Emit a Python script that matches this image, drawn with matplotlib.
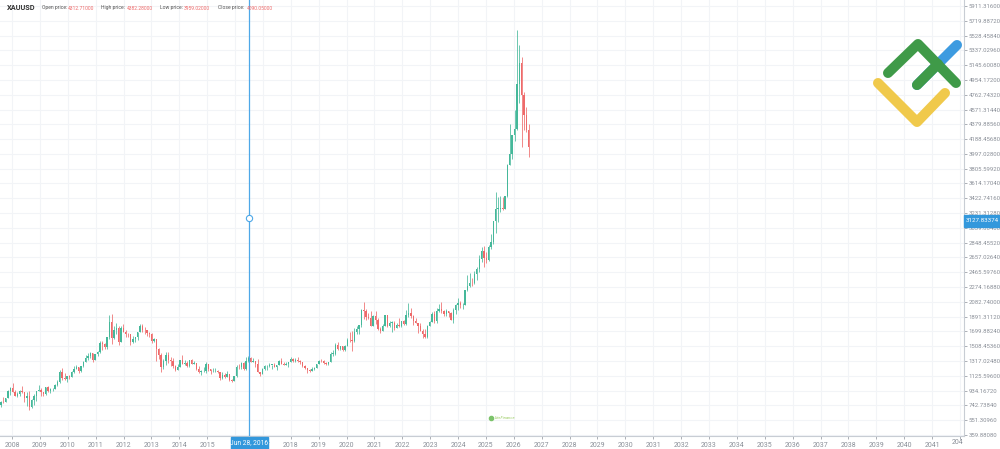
import numpy as np
import pandas as pd
import matplotlib
matplotlib.use("Agg")
import matplotlib.pyplot as plt
from matplotlib.patches import Rectangle

plt.rcParams['font.family'] = ['Roboto', 'DejaVu Sans']

# monthly XAUUSD candles, Aug 2007 .. Jun 2026
months = pd.date_range("2007-08-01", "2026-06-01", freq="MS")

opens = [
    665, 673, 743, 789, 783,
    834, 923, 972, 916, 864, 886, 929, 913, 833, 870, 717, 815,
    870, 927, 942, 917, 884, 979, 926, 954, 955, 1001, 1040, 1180,
    1097, 1082, 1118, 1113, 1180, 1212, 1244, 1181, 1247, 1307, 1357, 1386,
    1421, 1332, 1409, 1439, 1556, 1536, 1500, 1628, 1826, 1620, 1722, 1746,
    1564, 1738, 1697, 1669, 1664, 1560, 1598, 1622, 1692, 1772, 1719, 1713,
    1675, 1663, 1578, 1595, 1472, 1393, 1234, 1313, 1395, 1327, 1323, 1253,
    1202, 1244, 1326, 1284, 1296, 1250, 1327, 1282, 1287, 1210, 1171, 1183,
    1184, 1283, 1212, 1183, 1183, 1190, 1172, 1095, 1133, 1115, 1142, 1065,
    1061, 1118, 1238, 1233, 1293, 1215, 1322, 1351, 1309, 1316, 1277, 1173,
    1152, 1211, 1249, 1249, 1268, 1268, 1242, 1269, 1322, 1280, 1271, 1275,
    1303, 1345, 1318, 1325, 1316, 1299, 1253, 1224, 1201, 1192, 1215, 1222,
    1282, 1321, 1313, 1292, 1284, 1305, 1409, 1413, 1520, 1472, 1511, 1464,
    1517, 1589, 1585, 1577, 1686, 1730, 1781, 1975, 1968, 1886, 1879, 1776,
    1898, 1847, 1734, 1708, 1769, 1907, 1770, 1814, 1814, 1743, 1783, 1774,
    1829, 1797, 1909, 1937, 1897, 1837, 1807, 1766, 1711, 1660, 1633, 1768,
    1824, 1928, 1837, 1969, 1990, 1963, 1919, 1965, 1940, 1849, 1983, 2036,
    2063, 2040, 2044, 2230, 2286, 2327, 2326, 2448, 2503, 2635, 2744, 2654,
    2625, 2798, 2858, 3124, 3288, 3289, 3303, 3290, 3448, 3858, 4002, 4240,
    4320, 4900, 5180, 4760, 4500, 4312.71,
]
highs = [
    676, 745, 795, 848, 837,
    935, 975, 1033, 938, 921, 940, 988, 915, 919, 931, 827, 889,
    932, 1006, 964, 920, 983, 991, 962, 971, 1025, 1071, 1195, 1227,
    1162, 1128, 1139, 1181, 1249, 1265, 1244, 1250, 1315, 1388, 1424, 1431,
    1424, 1411, 1448, 1577, 1577, 1553, 1632, 1911, 1921, 1764, 1803, 1764,
    1764, 1791, 1718, 1678, 1669, 1640, 1627, 1693, 1790, 1796, 1755, 1723,
    1695, 1685, 1617, 1605, 1488, 1417, 1348, 1434, 1434, 1362, 1361, 1267,
    1280, 1333, 1392, 1331, 1315, 1326, 1346, 1322, 1289, 1255, 1206, 1238,
    1307, 1284, 1219, 1224, 1232, 1205, 1175, 1170, 1157, 1191, 1142, 1088,
    1125, 1263, 1283, 1304, 1303, 1362, 1375, 1367, 1352, 1318, 1337, 1180,
    1220, 1264, 1261, 1296, 1270, 1296, 1271, 1331, 1357, 1306, 1299, 1306,
    1366, 1361, 1356, 1365, 1326, 1309, 1265, 1224, 1214, 1243, 1237, 1284,
    1326, 1347, 1324, 1310, 1306, 1439, 1453, 1555, 1557, 1517, 1515, 1525,
    1611, 1689, 1704, 1748, 1765, 1789, 1984, 2075, 1992, 1933, 1966, 1906,
    1959, 1875, 1755, 1798, 1913, 1917, 1833, 1832, 1836, 1814, 1877, 1831,
    1853, 1974, 2070, 1998, 1910, 1879, 1814, 1808, 1735, 1730, 1787, 1833,
    1949, 1959, 2009, 2048, 2079, 1983, 1987, 1967, 1953, 2009, 2052, 2135,
    2088, 2065, 2236, 2431, 2450, 2387, 2483, 2531, 2685, 2790, 2801, 2726,
    2817, 2956, 3128, 3500, 3435, 3452, 3439, 3454, 3872, 4381, 4245, 4560,
    5600, 5410, 5250, 4800, 4600, 4382.28,
]
lows = [
    642, 671, 727, 776, 781,
    834, 882, 914, 861, 850, 860, 906, 786, 740, 681, 705, 752,
    801, 922, 865, 865, 882, 913, 904, 932, 952, 993, 1034, 1075,
    1074, 1044, 1086, 1113, 1155, 1208, 1157, 1177, 1242, 1305, 1330, 1360,
    1309, 1324, 1381, 1418, 1463, 1478, 1478, 1603, 1534, 1603, 1667, 1523,
    1563, 1688, 1627, 1627, 1527, 1546, 1564, 1586, 1688, 1692, 1672, 1635,
    1626, 1555, 1562, 1321, 1338, 1180, 1207, 1271, 1292, 1251, 1220, 1185,
    1202, 1239, 1277, 1268, 1240, 1240, 1281, 1275, 1206, 1160, 1131, 1170,
    1167, 1191, 1142, 1174, 1170, 1163, 1077, 1080, 1098, 1111, 1053, 1046,
    1061, 1107, 1208, 1208, 1199, 1199, 1310, 1301, 1305, 1241, 1171, 1123,
    1147, 1200, 1195, 1240, 1214, 1236, 1205, 1267, 1280, 1261, 1264, 1237,
    1302, 1307, 1303, 1302, 1281, 1245, 1211, 1160, 1180, 1182, 1196, 1221,
    1276, 1303, 1281, 1266, 1266, 1301, 1382, 1400, 1460, 1459, 1445, 1452,
    1517, 1563, 1451, 1568, 1670, 1671, 1758, 1863, 1849, 1860, 1764, 1776,
    1802, 1717, 1677, 1705, 1766, 1751, 1751, 1688, 1722, 1740, 1759, 1753,
    1780, 1782, 1890, 1872, 1787, 1805, 1681, 1709, 1615, 1617, 1617, 1765,
    1824, 1804, 1810, 1949, 1932, 1893, 1903, 1885, 1847, 1810, 1931, 1973,
    2002, 1985, 2039, 2228, 2277, 2286, 2319, 2364, 2472, 2603, 2537, 2583,
    2614, 2772, 2833, 2970, 3121, 3247, 3268, 3282, 3436, 3850, 3929, 4170,
    4300, 4650, 4086, 4300, 4280, 3959.02,
]
closes = [
    673, 743, 789, 783, 834,
    923, 972, 916, 864, 886, 929, 913, 833, 870, 717, 815, 870,
    927, 942, 917, 884, 979, 926, 954, 955, 1001, 1040, 1180, 1097,
    1082, 1118, 1113, 1180, 1212, 1244, 1181, 1247, 1307, 1357, 1386, 1421,
    1332, 1409, 1439, 1556, 1536, 1500, 1628, 1826, 1620, 1722, 1746, 1564,
    1738, 1697, 1669, 1664, 1560, 1598, 1622, 1692, 1772, 1719, 1713, 1675,
    1663, 1578, 1595, 1472, 1393, 1234, 1313, 1395, 1327, 1323, 1253, 1202,
    1244, 1326, 1284, 1296, 1250, 1327, 1282, 1287, 1210, 1171, 1183, 1184,
    1283, 1212, 1183, 1183, 1190, 1172, 1095, 1133, 1115, 1142, 1065, 1061,
    1118, 1238, 1233, 1293, 1215, 1322, 1351, 1309, 1316, 1277, 1173, 1152,
    1211, 1249, 1249, 1268, 1268, 1242, 1269, 1322, 1280, 1271, 1275, 1303,
    1345, 1318, 1325, 1316, 1299, 1253, 1224, 1201, 1192, 1215, 1222, 1282,
    1321, 1313, 1292, 1284, 1305, 1409, 1413, 1520, 1472, 1511, 1464, 1517,
    1589, 1585, 1577, 1686, 1730, 1781, 1975, 1968, 1886, 1879, 1776, 1898,
    1847, 1734, 1708, 1769, 1907, 1770, 1814, 1814, 1743, 1783, 1774, 1829,
    1797, 1909, 1937, 1897, 1837, 1807, 1766, 1711, 1660, 1633, 1768, 1824,
    1928, 1837, 1969, 1990, 1963, 1919, 1965, 1940, 1849, 1983, 2036, 2063,
    2040, 2044, 2230, 2286, 2327, 2326, 2448, 2503, 2635, 2744, 2654, 2625,
    2798, 2858, 3124, 3288, 3289, 3303, 3290, 3448, 3858, 4002, 4240, 4320,
    4900, 5180, 4760, 4500, 4310, 4090.05,
]

price_ticks = [359.8808, 551.3096, 742.7384, 934.1672, 1125.596, 1317.0248,
               1508.4536, 1699.8824, 1891.3112, 2082.74, 2274.1688, 2465.5976,
               2657.0264, 2848.4552, 3039.884, 3231.3128, 3422.7416, 3614.1704,
               3805.5992, 3997.028, 4188.4568, 4379.8856, 4571.3144, 4762.7432,
               4954.172, 5145.6008, 5337.0296, 5528.4584, 5719.8872, 5911.316]
years = list(range(2008, 2043))

cursor_date = "2016-06-28"
cursor_price = 3127.83374

header_keys = ["Open price:", "High price:", "Low price:", "Close price:"]
header_vals = ["4312.71000", "4382.28000", "3959.02000", "4090.05000"]

UP = "#45b89a"
DOWN = "#ee6a6a"
GRID = "#f2f4f7"
AXIS_TXT = "#8a8f98"
BLUE = "#3398dc"

# horizontal scale of the chart, in screen pixels
PLOT_W = 964          # price scale starts here
BAR0 = -3.8           # centre of the first bar
BAR_STEP = 2.356      # one monthly bar
YEAR0 = 12.0          # 2008 label
YEAR_STEP = 27.88     # one calendar year on the time scale


def year_x(yf):
    return YEAR0 + (yf - 2008) * YEAR_STEP


def main():
    o = np.array(opens, float)
    h = np.array(highs, float)
    l = np.array(lows, float)
    c = np.array(closes, float)
    x = BAR0 + np.arange(len(months)) * BAR_STEP
    cols = np.where(c >= o, UP, DOWN)

    fig = plt.figure(figsize=(10, 4.49), dpi=100)
    ax = fig.add_axes([0, 13 / 449, PLOT_W / 1000, 436 / 449])

    ax.vlines(x, l, h, colors=cols, lw=0.55, zorder=3)
    body = np.maximum(np.abs(c - o), 6)
    ax.bar(x, body, bottom=np.minimum(o, c), width=1.35, color=cols,
           lw=0, zorder=3)

    ax.set_xlim(0, PLOT_W)
    ax.set_ylim(346.0, 5989.0)

    ax.set_xticks([year_x(y) for y in years])
    ax.set_xticklabels([str(y) if y not in (2016, 2042) else "" for y in years])
    ax.set_yticks(price_ticks)
    ax.set_yticklabels([f"{p:.5f}" for p in price_ticks])
    ax.yaxis.tick_right()
    ax.tick_params(axis="both", colors=AXIS_TXT, length=2, width=0.5)
    ax.tick_params(axis="x", labelsize=5, pad=2)
    ax.tick_params(axis="y", labelsize=4.3, pad=1.5)
    ax.grid(True, color=GRID, lw=0.8, zorder=0)
    ax.set_axisbelow(True)
    for s in ("top", "left"):
        ax.spines[s].set_visible(False)
    for s in ("right", "bottom"):
        ax.spines[s].set_color("#c8cdd4")
        ax.spines[s].set_linewidth(0.8)

    # 2042 label, cut by the price scale
    lab = fig.text(year_x(2042) / 1000, 1 - 443 / 449, "2042",
                   fontsize=5, color=AXIS_TXT, ha="center", va="center")
    lab.set_clip_path(Rectangle((0, 0), 0.963, 1, transform=fig.transFigure))

    # crosshair
    cd = pd.Timestamp(cursor_date)
    cx = year_x(cd.year + (cd.dayofyear - 1) / 366)
    ax.axvline(cx, color="#4ea8e8", lw=0.9, zorder=4)
    ax.plot([cx], [cursor_price + 40], "o", ms=4.5, mfc="white", mec="#4ea8e8",
            mew=0.8, zorder=5)

    # overlay in pixel coords
    ov = fig.add_axes([0, 0, 1, 1])
    ov.set_xlim(0, 1000)
    ov.set_ylim(449, 0)
    ov.axis("off")
    ov.patch.set_visible(False)

    ov.text(7, 8, "XAUUSD", fontsize=5.3, fontweight="bold", color="#333333",
            va="center")
    key_x = [42, 101, 160, 218]
    val_x = [68, 127, 184, 247]
    for kx, vx, k, v in zip(key_x, val_x, header_keys, header_vals):
        ov.text(kx, 8, k, fontsize=3.6, color="#555555", va="center")
        ov.text(vx, 8, v, fontsize=3.6, color="#ef6b6b", va="center")

    # price and date boxes
    ov.add_patch(Rectangle((964, 215), 36, 12, color=BLUE, zorder=6))
    ov.text(982, 221, f"{cursor_price:.5f}", fontsize=4.5, color="white",
            ha="center", va="center", zorder=7)
    ov.add_patch(Rectangle((231, 437), 37, 12, color=BLUE, zorder=6))
    ov.text(249.5, 443, "Jun 28, 2016", fontsize=4.8, color="white",
            ha="center", va="center", zorder=7)

    # logo
    kw = dict(solid_capstyle="round", solid_joinstyle="round", lw=7.2)
    ov.plot([878, 917, 945], [83, 122, 93], color="#f0c94b", **kw)
    ov.plot([917, 957], [85, 45], color="#3d9be0", **kw)
    ov.plot([917, 938], [85, 64], color="#3f9a48", **kw)
    ov.plot([888, 918, 956], [73, 44, 83], color="#3f9a48", **kw)

    # watermark
    ov.plot([491], [418], "o", ms=3, color="#7cc36b")
    ov.text(495, 418, "LiteFinance", fontsize=3, color="#9ccc65",
            va="center", style="italic")

    fig.savefig("out.png", dpi=100)


if __name__ == "__main__":
    main()
